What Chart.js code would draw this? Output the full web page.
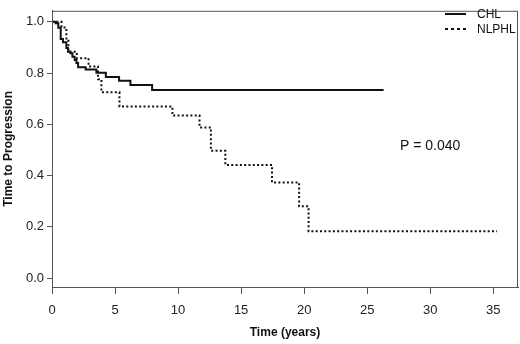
<!DOCTYPE html>
<html>
<head>
<meta charset="utf-8">
<script src="https://cdn.jsdelivr.net/npm/chart.js@4/dist/chart.umd.min.js"></script>
<style>
  html, body { margin: 0; padding: 0; background: #fff; }
  #wrap { width: 520px; height: 344px; position: relative; }
</style>
</head>
<body>
<div id="wrap"><canvas id="km"></canvas></div>
<script>
// Kaplan-Meier steps (time in years, survival fraction)
const chlTime = [0, 0.29, 0.5, 0.69, 0.87, 1.14, 1.27, 1.46, 1.62, 1.8, 1.94, 2.07, 2.67, 3.52, 4.27, 5.32, 6.22, 7.94, 26.3];
const chlSurv = [1.0, 0.994, 0.977, 0.933, 0.92, 0.898, 0.883, 0.877, 0.864, 0.851, 0.839, 0.823, 0.814, 0.801, 0.785, 0.770, 0.753, 0.734, 0.734];

const nlphlTime = [0, 0.75, 1.14, 1.3, 1.97, 2.9, 3.65, 3.92, 5.35, 9.55, 11.7, 12.6, 13.75, 17.45, 19.6, 20.35, 35.3];
const nlphlSurv = [1.0, 0.978, 0.93, 0.883, 0.858, 0.826, 0.776, 0.725, 0.669, 0.634, 0.588, 0.497, 0.441, 0.373, 0.280, 0.183, 0.183];

const seriesNames = ["CHL", "NLPHL"];
const xTicks = [0, 5, 10, 15, 20, 25, 30, 35];
const yTicks = [0, 0.2, 0.4, 0.6, 0.8, 1.0];
const pValueText = "P = 0.040";

const font = "'Liberation Sans', Arial, sans-serif";
const axisColor = "#555";

function pts(xs, ys) {
  return xs.map((x, i) => ({ x: x, y: ys[i] }));
}

const extras = {
  id: "extras",
  afterDraw(chart) {
    const { ctx, chartArea } = chart;
    ctx.save();
    // box around the plot
    ctx.strokeStyle = axisColor;
    ctx.lineWidth = 1;
    ctx.strokeRect(chartArea.left + 0.5, chartArea.top + 0.5,
      chartArea.right - chartArea.left - 1, chartArea.bottom - chartArea.top);
    // legend, top right
    ctx.strokeStyle = "#111";
    ctx.lineWidth = 2;
    ctx.beginPath();
    ctx.moveTo(445, 14); ctx.lineTo(466, 14);
    ctx.stroke();
    ctx.setLineDash([3, 3]);
    ctx.beginPath();
    ctx.moveTo(445, 29); ctx.lineTo(467, 29);
    ctx.stroke();
    ctx.setLineDash([]);
    ctx.fillStyle = "#111";
    ctx.font = "12px " + font;
    ctx.textBaseline = "middle";
    ctx.textAlign = "left";
    ctx.fillText(seriesNames[0], 477, 15);
    ctx.fillText(seriesNames[1], 477, 30);
    // p-value
    ctx.font = "14px " + font;
    ctx.fillText(pValueText, 400, 146);
    ctx.restore();
  }
};

new Chart(document.getElementById("km"), {
  type: "line",
  plugins: [extras],
  data: {
    datasets: [
      {
        label: seriesNames[0],
        data: pts(chlTime, chlSurv),
        stepped: true,
        borderColor: "#111",
        borderWidth: 2,
        pointRadius: 0,
        fill: false
      },
      {
        label: seriesNames[1],
        data: pts(nlphlTime, nlphlSurv),
        stepped: true,
        borderColor: "#111",
        borderWidth: 2,
        borderDash: [2, 2.3],
        pointRadius: 0,
        fill: false
      }
    ]
  },
  options: {
    responsive: true,
    maintainAspectRatio: false,
    animation: false,
    layout: { padding: { top: 1, right: 2, left: 0, bottom: 0 } },
    plugins: {
      legend: { display: false },
      tooltip: { enabled: false }
    },
    scales: {
      x: {
        type: "linear",
        min: 0,
        max: 36.96,
        afterBuildTicks: (s) => { s.ticks = xTicks.map(v => ({ value: v })); },
        afterFit: (s) => { s.height = 57; },
        grid: { display: true, drawOnChartArea: false, drawTicks: true, tickLength: 7, color: axisColor },
        border: { display: true, color: axisColor },
        ticks: { color: "#222", font: { family: font, size: 13 }, padding: 9, maxRotation: 0 },
        title: { display: true, text: "Time (years)", color: "#111", font: { family: font, size: 12, weight: "bold" }, padding: { top: 8 } }
      },
      y: {
        type: "linear",
        min: -0.035,
        max: 1.043,
        afterBuildTicks: (s) => { s.ticks = yTicks.map(v => ({ value: v })); },
        afterFit: (s) => { s.width = 52; },
        grid: { display: true, drawOnChartArea: false, drawTicks: true, tickLength: 5, color: axisColor },
        border: { display: true, color: axisColor },
        ticks: { color: "#222", font: { family: font, size: 13 }, padding: 3, callback: (v) => v.toFixed(1) },
        title: { display: true, text: "Time to Progression", color: "#111", font: { family: font, size: 12, weight: "bold" }, padding: { top: 1 } }
      }
    }
  }
});
</script>
</body>
</html>
